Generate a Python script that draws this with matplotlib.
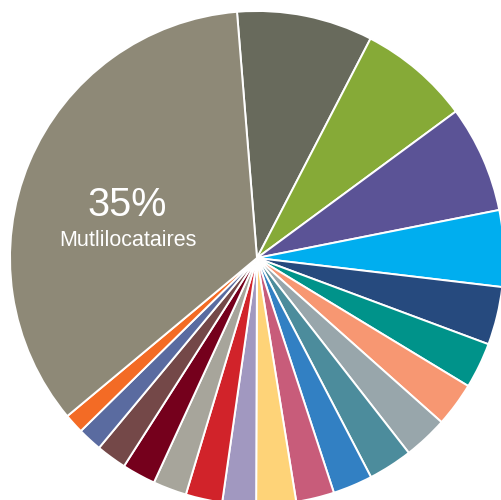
import matplotlib.pyplot as plt

# parts in %, clockwise from the top
values = [8.9, 7.3, 7.0, 5.0, 3.8, 3.0, 2.9, 2.9, 2.9, 2.6, 2.5, 2.6,
          2.2, 2.4, 2.2, 2.2, 2.0, 1.6, 1.3, 34.8]
colors = ['#686a5c', '#86aa37', '#5b5396', '#00aeef', '#264a7e', '#00938a',
          '#f79772', '#98a6ab', '#4c8c9c', '#3280c3', '#c85c7a', '#fed378',
          '#a198c0', '#d1232a', '#a7a59b', '#75001c', '#744848', '#5a6ba0',
          '#f36b25', '#8e8977']
big_pct = '35%'
big_label = 'Mutlilocataires'

fig = plt.figure(figsize=(5.02, 5.0), dpi=100)
ax = fig.add_axes([0, 0, 1, 1])
ax.pie(values, colors=colors, startangle=94.65, counterclock=False,
       radius=1, center=(0, 0),
       wedgeprops=dict(edgecolor='white', linewidth=1.4))
ax.set_xlim(-1.0405, 0.9919)
ax.set_ylim(-0.9798, 1.0445)
ax.set_aspect('auto')
ax.axis('off')

ax.text(-0.526, 0.215, big_pct, color='white', fontsize=28.5,
        family='Liberation Sans', ha='center', va='center')
ax.text(-0.522, 0.072, big_label, color='white', fontsize=15.5,
        family='Liberation Sans', ha='center', va='center')

fig.savefig('out.png', dpi=100)
